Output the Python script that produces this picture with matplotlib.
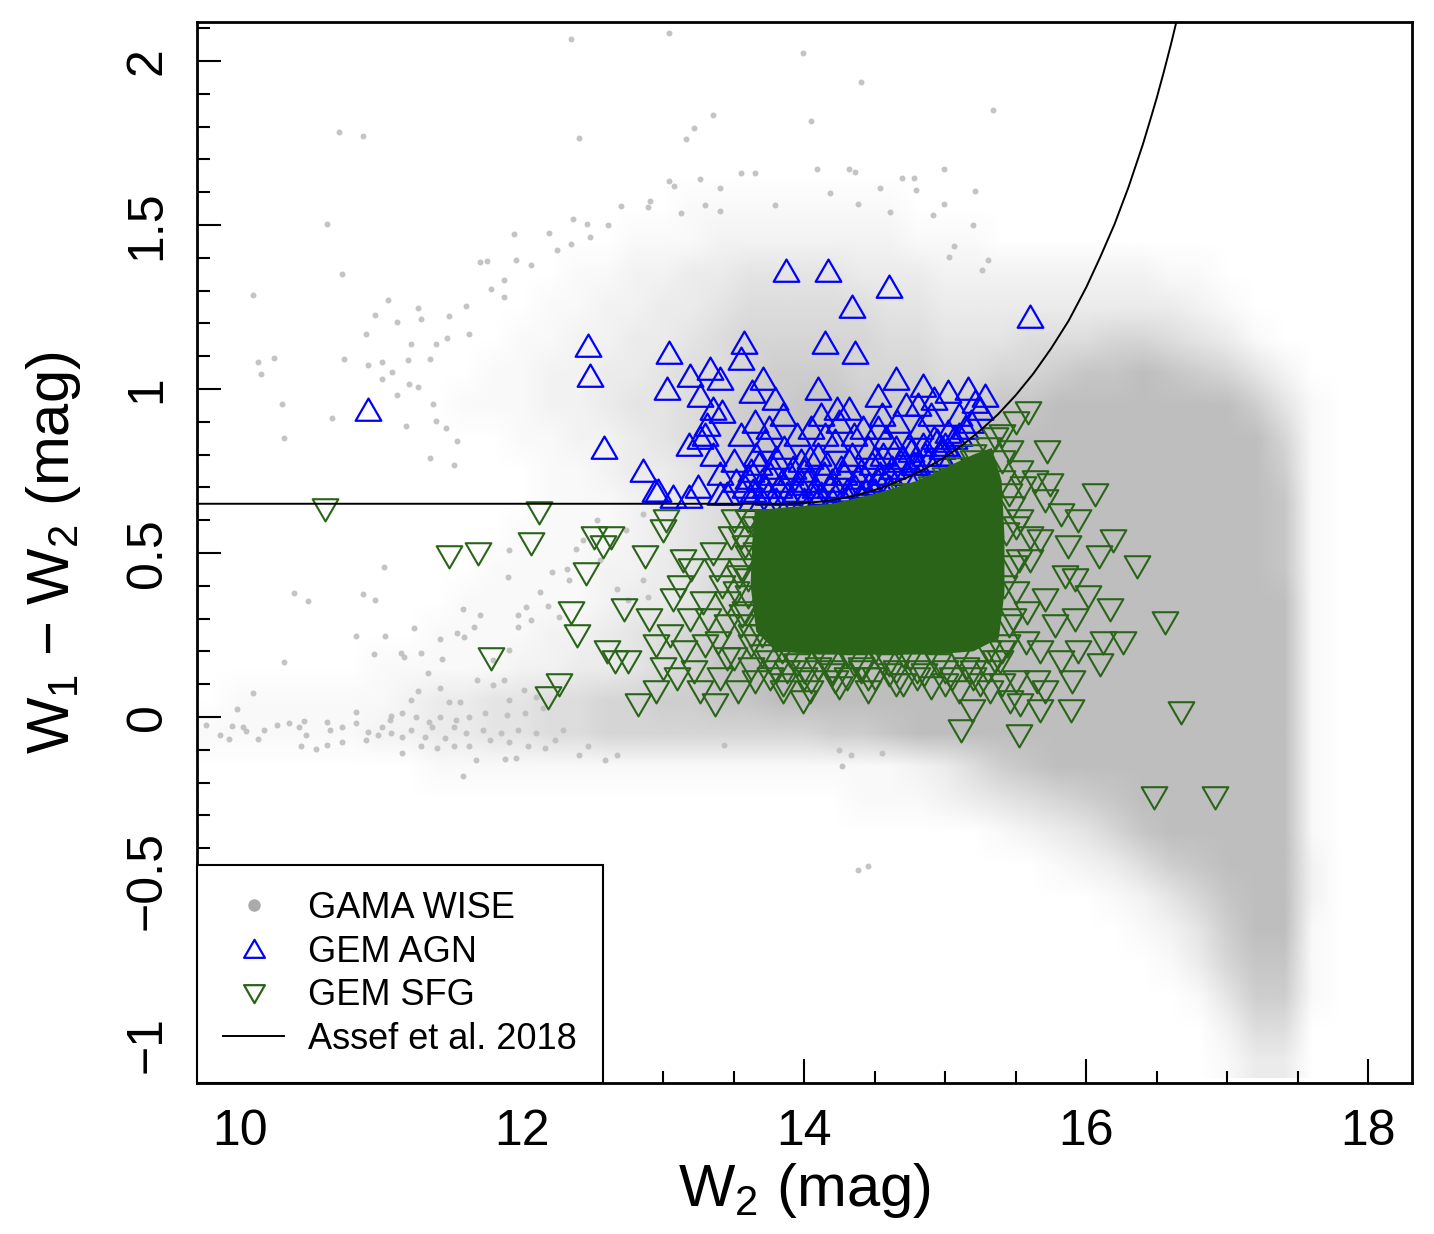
import numpy as np
import matplotlib
matplotlib.use("Agg")
import matplotlib.pyplot as plt
from matplotlib.lines import Line2D
from matplotlib.path import Path
from matplotlib.colors import to_rgb

plt.rcParams['font.family'] = ['Liberation Sans', 'DejaVu Sans']
plt.rcParams['mathtext.fontset'] = 'custom'
plt.rcParams['mathtext.rm'] = 'Liberation Sans'
plt.rcParams['mathtext.it'] = 'Liberation Sans'

# ---- GAMA WISE: individual sparse galaxies (W2, W1-W2)
gama_w2 = [12.35, 13.04, 13.99, 14.40, 15.34, 13.35, 14.05, 13.22, 13.16, 12.40,
           10.70, 10.87, 10.62, 10.72, 10.09, 10.13, 10.24, 10.15, 10.30, 10.31,
           10.65, 10.74, 10.89, 10.96, 11.05, 11.11, 11.26, 11.28, 11.48, 11.60,
           11.62, 11.21, 11.39, 11.47, 11.35, 11.19, 11.01, 10.91, 11.08, 11.01,
           11.20, 11.26, 11.11, 11.37, 11.39, 11.18, 11.46, 11.54, 11.35, 11.52,
           11.70, 11.75, 11.78, 11.87, 11.87, 11.94, 11.96, 12.06, 12.19, 12.36,
           12.46, 12.35, 12.25, 12.48, 12.61, 12.70, 12.91, 12.89, 13.13, 13.30,
           13.40, 13.55, 13.65, 13.04, 13.08, 13.26, 13.40, 13.79, 14.09, 14.32,
           14.36, 14.69, 14.78, 14.99, 14.54, 14.18, 14.38, 14.61, 14.79, 14.91,
           14.99, 15.21, 15.20, 15.06, 15.03, 15.30, 15.26,
           10.38, 10.48, 10.31, 10.09, 9.98, 9.76, 9.86, 9.92, 9.94, 10.02,
           10.04, 10.13, 10.17, 10.26, 10.35, 10.42, 10.45, 10.47, 10.54, 10.43,
           10.62, 10.62, 10.64, 10.72, 10.72, 10.87, 10.96, 10.82, 11.03, 10.95,
           11.23, 11.14, 11.16, 11.28, 11.33, 11.42, 11.43, 11.58, 11.54, 11.59,
           11.66, 11.70, 11.90, 11.02, 11.26, 11.21, 11.42, 11.48, 11.56, 10.82,
           10.82, 10.91, 10.89, 10.98, 11.06, 11.07, 11.15, 11.15, 11.21, 11.28,
           11.31, 11.36, 11.40, 11.45, 11.52, 11.52, 11.60, 11.62, 11.67, 11.72,
           11.77, 11.85, 11.88, 11.96, 11.58, 11.91, 11.97, 12.04, 12.10, 12.16,
           12.23, 12.29, 12.40, 12.47, 12.59, 12.67, 13.43, 14.25, 14.27, 14.33,
           14.55, 14.38, 14.45,
           11.91, 12.03, 12.06, 11.97, 12.13, 12.32, 12.38, 12.21, 12.18, 12.26,
           12.33, 11.97, 11.91, 11.79, 11.68, 11.79, 11.87, 11.91, 12.01, 12.10,
           12.15, 12.02, 11.89, 11.74, 11.62, 11.53, 11.42, 11.34, 11.25, 11.15,
           11.07, 11.01, 12.43, 12.53, 12.86, 12.74, 12.55, 12.67, 12.75, 12.86,
           12.89]
gama_col = [2.068, 2.085, 2.025, 1.935, 1.85, 1.836, 1.817, 1.796, 1.763, 1.766,
            1.783, 1.77, 1.503, 1.351, 1.287, 1.082, 1.094, 1.047, 0.955, 0.849,
            0.91, 1.092, 1.167, 1.227, 1.27, 1.204, 1.247, 1.214, 1.223, 1.252,
            1.169, 1.138, 1.136, 1.155, 1.09, 1.087, 1.082, 1.072, 1.052, 1.03,
            1.016, 1.006, 0.983, 0.955, 0.902, 0.887, 0.881, 0.84, 0.788, 0.767,
            1.387, 1.389, 1.306, 1.331, 1.28, 1.474, 1.392, 1.377, 1.477, 1.517,
            1.504, 1.443, 1.423, 1.463, 1.499, 1.558, 1.574, 1.555, 1.538, 1.562,
            1.542, 1.66, 1.66, 1.635, 1.618, 1.64, 1.614, 1.562, 1.672, 1.67,
            1.662, 1.644, 1.644, 1.671, 1.614, 1.596, 1.565, 1.54, 1.606, 1.531,
            1.565, 1.603, 1.499, 1.436, 1.402, 1.392, 1.363,
            0.379, 0.352, 0.168, 0.073, 0.024, -0.025, -0.055, -0.068, -0.027, -0.03,
            -0.042, -0.068, -0.04, -0.025, -0.02, -0.03, -0.012, -0.055, -0.098, -0.09,
            -0.085, -0.015, -0.04, -0.03, -0.075, 0.375, 0.357, 0.248, 0.248, 0.193,
            0.271, 0.194, 0.184, 0.194, 0.133, 0.238, 0.177, 0.33, 0.256, 0.244,
            0.274, 0.31, 0.426, 0.457, 0.079, 0.052, 0.088, 0.046, 0.046, 0.015,
            -0.018, -0.046, -0.07, -0.055, -0.01, -0.05, -0.06, -0.11, -0.04, -0.09,
            -0.06, -0.03, -0.095, -0.064, -0.03, -0.09, -0.05, -0.09, -0.13, -0.04,
            -0.07, -0.05, -0.128, -0.125, -0.18, -0.076, -0.04, -0.09, -0.05, -0.095,
            -0.07, -0.04, -0.116, -0.09, -0.13, -0.116, -0.085, -0.1, -0.15, -0.116,
            -0.11, -0.466, -0.454,
            0.51, 0.336, 0.296, 0.31, 0.382, 0.45, 0.512, 0.442, 0.338, 0.305,
            0.418, 0.274, 0.204, 0.174, 0.113, 0.098, 0.113, 0.052, 0.082, 0.061,
            0.027, 0.012, 0.006, 0.012, 0.0, -0.01, 0.0, -0.015, 0.0, 0.012,
            0.003, -0.03, 0.54, 0.60, 0.62, 0.57, 0.48, 0.39, 0.357, 0.418,
            0.366]

# GAMA WISE crowding: density 0-9 per cell, cells 0.2 mag wide (W2 = 9.8 ... 17.8)
# and 0.1 mag high, rows from W1-W2 = 2.05 (top) down to -1.05
gama_dens = [
    "0000000000000000000000000000000000000000",  # 2.05
    "0000000000000000000000000000000000000000",  # 1.95
    "0000000000000000000000000000000000000000",  # 1.85
    "0000000000000000000000000000000000000000",  # 1.75
    "0000000000000000000000000000000000000000",  # 1.65
    "0000000000000000011111111000000000000000",  # 1.55
    "0000000000000001112222222111000000000000",  # 1.45
    "0000000000000112233444433322222222110000",  # 1.35
    "0000000000001122334555554433333333321000",  # 1.25
    "0000000000011223345666665544455566543100",  # 1.15
    "0000000000112233455677766655667889876420",  # 1.05
    "0000000001112234456778877767889999999741",  # 0.95
    "0000000000011223456788888889999999999961",  # 0.85
    "0000000000001123346789999999999999999971",  # 0.75
    "0000000000001112345789999999999999999981",  # 0.65
    "0000000000011112345799999999999999999981",  # 0.55
    "0000000000111122345799999999999999999981",  # 0.45
    "0000000001111123346899999999999999999991",  # 0.35
    "0000000011112234567899999999999999999991",  # 0.25
    "0000001111122334568999999999999999999991",  # 0.15
    "0111111233445566778899999999999999999991",  # 0.05
    "1111112233445566666666778999999999999991",  # -0.05
    "0000000011111111111111111235789999999991",  # -0.15
    "0000000000000000000000011123456789999991",  # -0.25
    "0000000000000000000000000000123468999991",  # -0.35
    "0000000000000000000000000000001235789992",  # -0.45
    "0000000000000000000000000000000012468992",  # -0.55
    "0000000000000000000000000000000001247991",  # -0.65
    "0000000000000000000000000000000000136881",  # -0.75
    "0000000000000000000000000000000000014771",  # -0.85
    "0000000000000000000000000000000000002550",  # -0.95
    "0000000000000000000000000000000000001330",  # -1.05
]

# ---- GEM AGN
agn_w2 = [10.91, 12.47, 12.48, 12.58, 12.86, 12.94, 13.04, 13.03, 13.19, 13.26,
          13.33, 13.40, 13.35, 13.18, 13.26, 13.31, 13.42, 13.55, 13.57, 13.63,
          13.71, 13.79, 13.87, 14.17, 14.34, 14.15, 14.36, 14.10, 14.23, 14.52,
          14.60, 14.65, 14.84, 14.81, 15.02, 15.16, 15.21, 15.60, 13.07, 13.18,
          13.40, 12.96,
          13.45, 13.52, 13.58, 13.62, 13.66, 13.70, 13.74, 13.78, 13.82, 13.86,
          13.90, 13.94, 13.98, 14.02, 14.06, 14.10, 14.14, 14.18, 14.22, 14.26,
          14.30, 14.34, 14.38, 14.42, 14.46, 14.50, 14.54, 14.58, 14.62, 14.66,
          14.70, 14.74, 14.78, 14.82, 14.86, 14.90, 14.94, 14.98, 15.02, 15.06,
          15.10, 15.14, 15.18, 13.55, 13.65, 13.75, 13.85, 13.95, 14.05, 14.15,
          14.25, 14.35, 14.45, 14.55, 14.65, 13.40, 13.35, 13.30, 13.25, 13.62,
          13.80, 14.00, 14.20, 14.40, 14.60, 14.80, 15.25, 13.50, 13.72, 14.12,
          14.32, 14.52, 14.72, 14.92, 15.28,
          13.60, 13.64, 13.68, 13.72, 13.76, 13.80, 13.84, 13.88, 13.92, 13.96,
          14.00, 14.04, 14.08, 14.12, 14.16, 14.20, 14.24, 14.28, 14.32, 14.36,
          14.40, 14.44, 14.48, 14.52, 14.56, 14.60, 14.64, 14.68, 14.72, 14.76,
          14.80, 14.84, 14.88, 14.92, 14.96, 15.00, 15.05, 15.10, 13.70, 13.90,
          14.10, 14.30, 14.50]
agn_col = [0.935, 1.13, 1.04, 0.82, 0.75, 0.69, 1.11, 1.00, 1.04, 0.98,
           1.06, 1.03, 0.94, 0.83, 0.85, 0.89, 0.93, 1.09, 1.14, 0.99,
           1.03, 0.97, 1.36, 1.36, 1.25, 1.14, 1.11, 1.00, 0.94, 0.98,
           1.31, 1.03, 1.01, 0.95, 0.99, 1.00, 0.96, 1.22, 0.67, 0.67,
           0.68, 0.69,
           0.68, 0.72, 0.70, 0.75, 0.80, 0.72, 0.68, 0.76, 0.70, 0.82,
           0.74, 0.69, 0.78, 0.72, 0.67, 0.80, 0.74, 0.70, 0.84, 0.76,
           0.69, 0.80, 0.73, 0.88, 0.71, 0.79, 0.74, 0.85, 0.76, 0.90,
           0.79, 0.83, 0.77, 0.88, 0.80, 0.92, 0.84, 0.82, 0.87, 0.85,
           0.92, 0.88, 0.90, 0.86, 0.90, 0.88, 0.92, 0.86, 0.88, 0.86,
           0.90, 0.86, 0.82, 0.92, 0.82, 0.74, 0.80, 0.86, 0.70, 0.66,
           0.66, 0.66, 0.66, 0.68, 0.70, 0.73, 0.94, 0.78, 0.84, 0.92,
           0.94, 0.88, 0.95, 0.97, 0.98,
           0.73, 0.69, 0.77, 0.70, 0.74, 0.79, 0.72, 0.68, 0.76, 0.71,
           0.75, 0.79, 0.70, 0.68, 0.77, 0.72, 0.69, 0.74, 0.78, 0.70,
           0.75, 0.69, 0.77, 0.72, 0.80, 0.74, 0.71, 0.78, 0.74, 0.81,
           0.77, 0.83, 0.78, 0.85, 0.80, 0.83, 0.80, 0.86, 0.66, 0.66,
           0.66, 0.67, 0.69]

# ---- GEM SFG
sfg_w2 = [10.60, 11.48, 11.69, 11.78, 12.06, 12.12, 12.18, 12.26, 12.35, 12.39,
          12.45, 12.51, 12.57, 12.63, 12.60, 12.66, 12.72, 12.75, 12.82, 12.87,
          12.95, 13.00, 13.02, 13.07, 13.14, 13.19, 13.26, 13.37, 13.39, 13.53,
          13.65, 13.85, 13.99, 14.04, 14.22, 14.45, 14.65, 15.11, 15.19, 15.52,
          15.53, 15.67, 15.71, 15.89, 15.90, 15.94, 16.10, 16.12, 16.17, 16.26,
          16.06, 15.94, 16.01, 16.09, 16.19, 16.36, 16.56, 16.67, 16.48, 16.91,
          15.59, 15.72, 15.74, 15.82, 15.87, 15.85, 15.71, 15.78, 15.67, 15.92,
          15.92, 15.82, 15.65, 15.46, 15.32, 15.50, 15.39, 15.57, 15.60, 15.53,
          15.67, 15.46, 15.53, 15.64, 15.71,
          12.90, 12.95, 13.00, 13.05, 13.10, 13.12, 13.15, 13.20, 13.22, 13.28,
          13.30, 13.35, 13.40, 13.42, 13.45, 13.48, 13.50, 13.55, 13.58, 13.60,
          13.62, 13.66, 13.70, 13.72, 13.76, 13.80, 13.84, 13.88, 13.92, 14.00,
          14.10, 14.20, 14.30, 14.40, 14.50, 14.60, 14.70, 14.80, 14.90, 15.00,
          15.10, 15.20, 15.30, 15.40, 14.00, 14.30, 14.60, 14.90, 15.10, 15.30,
          15.40, 15.20, 15.50,
          13.75, 13.95, 14.15, 14.35, 14.55, 14.75, 14.95, 15.15, 15.35, 13.85,
          14.05, 14.25, 14.45, 14.65, 14.85, 15.05, 15.25, 13.55, 13.52, 13.58,
          13.60, 13.65, 13.50, 13.45, 13.38, 13.32, 13.45, 13.62, 15.45, 15.50,
          15.52, 15.50, 15.45, 15.40, 15.55, 15.60, 15.58, 15.40, 13.80, 14.10,
          14.50, 14.70, 15.00, 15.20, 15.35,
          13.70, 13.80, 13.90, 14.00, 14.10, 14.20, 14.30, 14.40, 14.50, 14.60,
          14.70, 14.80, 14.90, 15.00, 15.10, 15.20, 15.30, 13.62, 13.56, 13.60,
          13.54, 13.60, 13.55, 13.60, 15.44, 15.48, 15.42, 15.49, 15.43, 15.47,
          15.40]
sfg_col = [0.635, 0.49, 0.50, 0.18, 0.53, 0.625, 0.06, 0.10, 0.32, 0.25,
           0.44, 0.55, 0.52, 0.55, 0.20, 0.17, 0.33, 0.17, 0.04, 0.49,
           0.08, 0.57, 0.60, 0.36, 0.48, 0.30, 0.08, 0.04, 0.23, 0.08,
           0.11, 0.08, 0.05, 0.08, 0.11, 0.08, 0.14, -0.04, 0.02, -0.055,
           0.04, 0.02, 0.08, 0.02, 0.11, 0.20, 0.16, 0.23, 0.33, 0.23,
           0.68, 0.60, 0.37, 0.49, 0.54, 0.46, 0.29, 0.015, -0.245, -0.245,
           0.93, 0.81, 0.71, 0.62, 0.52, 0.43, 0.36, 0.28, 0.20, 0.42,
           0.30, 0.17, 0.11, 0.05, 0.08, 0.11, 0.17, 0.23, 0.48, 0.60,
           0.54, 0.81, 0.75, 0.72, 0.66,
           0.30, 0.22, 0.15, 0.25, 0.12, 0.40, 0.20, 0.45, 0.14, 0.35,
           0.22, 0.50, 0.12, 0.40, 0.28, 0.55, 0.18, 0.45, 0.32, 0.60,
           0.15, 0.50, 0.25, 0.58, 0.12, 0.40, 0.20, 0.14, 0.30, 0.12,
           0.15, 0.14, 0.12, 0.15, 0.12, 0.16, 0.10, 0.12, 0.09, 0.10,
           0.08, 0.12, 0.14, 0.10, 0.60, 0.62, 0.64, 0.70, 0.76, 0.82,
           0.86, 0.78, 0.90,
           0.17, 0.16, 0.17, 0.16, 0.17, 0.18, 0.16, 0.15, 0.17, 0.10,
           0.11, 0.09, 0.12, 0.10, 0.13, 0.12, 0.10, 0.28, 0.38, 0.52,
           0.42, 0.58, 0.60, 0.35, 0.45, 0.30, 0.18, 0.22, 0.28, 0.38,
           0.48, 0.58, 0.68, 0.78, 0.70, 0.55, 0.32, 0.20, 0.60, 0.61,
           0.63, 0.68, 0.73, 0.80, 0.85,
           0.19, 0.14, 0.19, 0.14, 0.20, 0.13, 0.19, 0.14, 0.20, 0.13,
           0.19, 0.14, 0.20, 0.14, 0.19, 0.14, 0.20, 0.25, 0.31, 0.37,
           0.43, 0.49, 0.55, 0.60, 0.22, 0.30, 0.40, 0.46, 0.56, 0.64,
           0.72]
# outline of the area where SFG triangles overlap into a solid patch
sfg_core_w2 = [13.65, 13.9, 14.2, 14.5, 14.8, 15.0, 15.2, 15.33, 15.4, 15.42,
               15.42, 15.38, 15.2, 14.9, 14.5, 14.1, 13.8, 13.66, 13.62, 13.63]
sfg_core_col = [0.63, 0.64, 0.65, 0.68, 0.72, 0.76, 0.80, 0.82, 0.72, 0.55,
                0.38, 0.24, 0.20, 0.19, 0.19, 0.19, 0.20, 0.26, 0.40, 0.52]

# ---- Assef et al. 2018 selection line
assef_w2 = [9.6, 13.86, 14.0, 14.125, 14.25, 14.375, 14.5, 14.625, 14.75, 14.875,
            15.0, 15.125, 15.25, 15.375, 15.5, 15.625, 15.75, 15.875, 16.0, 16.1,
            16.2, 16.3, 16.4, 16.45, 16.5, 16.55, 16.6, 16.65, 16.7]
assef_col = [0.65, 0.65, 0.652, 0.657, 0.665, 0.677, 0.692, 0.711, 0.734, 0.761,
             0.793, 0.830, 0.874, 0.923, 0.981, 1.047, 1.123, 1.208, 1.310, 1.403,
             1.502, 1.616, 1.744, 1.815, 1.888, 1.967, 2.050, 2.139, 2.233]

gray = '#bebebe'
blue = '#0000ff'
green = '#2a6419'
up_tri = Path([(-1, -0.8), (1, -0.8), (0, 0.93), (-1, -0.8)],
              [Path.MOVETO, Path.LINETO, Path.LINETO, Path.CLOSEPOLY])
down_tri = Path([(-1, 0.8), (1, 0.8), (0, -0.93), (-1, 0.8)],
                [Path.MOVETO, Path.LINETO, Path.LINETO, Path.CLOSEPOLY])

fig = plt.figure(figsize=(14.34, 12.34), dpi=100)
ax = fig.add_axes([0.1374, 0.1224, 0.8473, 0.8598])

# density cells of the GAMA cloud
dens = np.array([[int(c) for c in row.ljust(41, '0')[:41]] for row in gama_dens]) / 9.0
rgba = np.zeros(dens.shape + (4,))
rgba[..., :3] = to_rgb(gray)
rgba[..., 3] = dens ** 1.1
ax.imshow(rgba, extent=[9.7, 17.9, -1.1, 2.1], origin='upper', aspect='auto',
          interpolation='bilinear', zorder=1)
ax.plot(gama_w2, gama_col, 'o', color=gray, ms=4.3, mew=0, alpha=0.9, zorder=1.2)

ax.plot(agn_w2, agn_col, linestyle='none', marker=up_tri, ms=18.5, mfc='none',
        mec=blue, mew=1.6, zorder=2)
ax.fill(sfg_core_w2, sfg_core_col, color=green, lw=0, zorder=3)
ax.plot(sfg_w2, sfg_col, linestyle='none', marker=down_tri, ms=18.5, mfc='none',
        mec=green, mew=1.5, zorder=3)
ax.plot(assef_w2, assef_col, color='black', lw=1.4, zorder=4)

ax.set_xlim(9.695, 18.31)
ax.set_ylim(-1.116, 2.119)
ax.set_xticks([10, 12, 14, 16, 18])
ax.set_xticks(np.arange(10, 18.01, 0.5), minor=True)
ax.set_yticks([-1, -0.5, 0, 0.5, 1, 1.5, 2])
ax.set_yticklabels(['\u22121', '\u22120.5', '0', '0.5', '1', '1.5', '2'],
                   rotation=90, va='center')
ax.set_yticks(np.arange(-1.1, 2.11, 0.1), minor=True)
ax.tick_params(which='both', direction='in', width=1.5, top=False, right=False,
               labelsize=36)
ax.tick_params(which='major', length=17, pad=19)
ax.tick_params(which='minor', length=9)
for s in ax.spines.values():
    s.set_linewidth(2)

ax.set_xlabel('W$_2$ (mag)', fontsize=43, labelpad=4)
ax.set_ylabel('W$_1$ \u2212 W$_2$ (mag)', fontsize=43, labelpad=30)

handles = [
    Line2D([], [], linestyle='none', marker='o', ms=9, color='#ababab', mew=0),
    Line2D([], [], linestyle='none', marker=up_tri, ms=15, mfc='none', mec=blue, mew=1.6),
    Line2D([], [], linestyle='none', marker=down_tri, ms=15, mfc='none', mec=green, mew=1.6),
    Line2D([], [], color='black', lw=1.4),
]
leg = ax.legend(handles, ['GAMA WISE', 'GEM AGN', 'GEM SFG', 'Assef et al. 2018'],
                loc='lower left', bbox_to_anchor=(0, 0), borderaxespad=0,
                fontsize=26, frameon=True, fancybox=False, edgecolor='black',
                framealpha=1, borderpad=0.72, handlelength=1.7, handletextpad=0.65,
                labelspacing=0.24)
leg.get_frame().set_linewidth(1.5)
leg.set_zorder(5)

fig.savefig('out.png', dpi=100)
